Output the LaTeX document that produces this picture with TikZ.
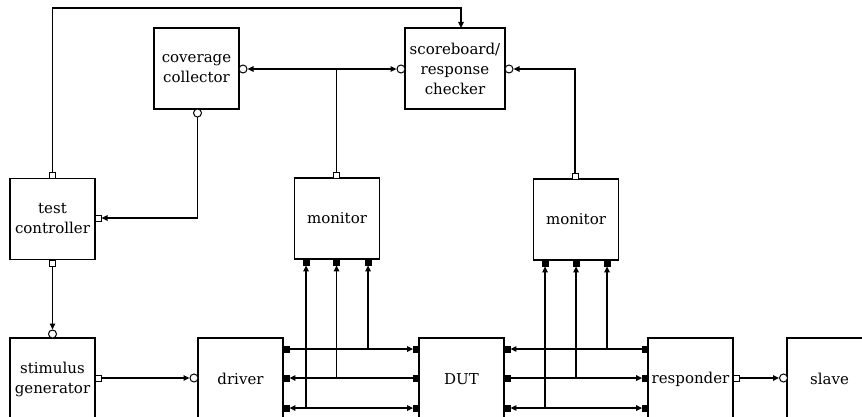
\documentclass[tikz,border=0pt]{standalone}
\usepackage{fontspec}
\setmainfont{DejaVu Serif}
\usetikzlibrary{arrows.meta,calc}
\begin{document}
\begin{tikzpicture}[x=1pt,y=-1pt,
  line width=1.3pt,
  block/.style={draw, minimum width=85pt, minimum height=81pt, align=center,
    inner sep=2pt, font=\fontsize{15}{20}\selectfont},
  oport/.style={draw, fill=white, rectangle, minimum size=6pt, inner sep=0pt, line width=1pt},
  cport/.style={draw, fill=white, circle, minimum size=8pt, inner sep=0pt, line width=1pt},
  fport/.style={draw, fill=black, rectangle, minimum size=6pt, inner sep=0pt, line width=0.8pt},
  tip/.tip={Triangle[length=6pt,width=5.5pt]},
  arr/.style={-tip},
  biarr/.style={tip-tip}
]
\useasboundingbox (0,0) rectangle (862,417);

% main blocks
\node[block] (cov) at (196.5,68.5) {coverage\\collector};
\node[block, minimum width=100pt] (sb) at (455,68.5) {scoreboard/\\response\\checker};
\node[block] (tc) at (52.5,219) {test\\controller};
\node[block] (mon1) at (337,218.5) {monitor};
\node[block] (mon2) at (576,219.5) {monitor};
\node[block, minimum height=82pt] (stim) at (52.5,379) {stimulus\\generator};
\node[block, minimum height=82pt] (drv) at (240.5,379) {driver};
\node[block, minimum height=82pt] (dut) at (461.5,379) {DUT};
\node[block, minimum height=82pt, inner sep=0pt] (resp) at (690.5,379) {responder};
\node[block, minimum height=82pt] (slave) at (829.5,379) {slave};

% ports
\node[oport] (tcT) at (52.5,175) {};
\node[oport] (tcR) at (98,218) {};
\node[oport] (tcB) at (52.5,263) {};
\node[cport] (covR) at (243,69) {};
\node[cport] (covB) at (197.5,113) {};
\node[cport] (sbL) at (401,69) {};
\node[cport] (sbR) at (509,69) {};
\coordinate (sbIn) at (461,28);
\node[oport] (m1T) at (336.5,175) {};
\node[fport] (m1a) at (306,262) {};
\node[fport] (m1b) at (336.5,262) {};
\node[fport] (m1c) at (368,262) {};
\node[oport] (m2T) at (575,176) {};
\node[fport] (m2a) at (545,263) {};
\node[fport] (m2b) at (576,263) {};
\node[fport] (m2c) at (607,263) {};
\node[cport] (stimT) at (52.5,334) {};
\node[oport] (stimR) at (98,378) {};
\node[cport] (drvL) at (194,378) {};
\node[fport] (d1) at (286,349) {};
\node[fport] (d2) at (286,378) {};
\node[fport] (d3) at (286,408) {};
\node[fport] (u1) at (416.5,349) {};
\node[fport] (u2) at (416.5,378) {};
\node[fport] (u3) at (416.5,408) {};
\node[fport] (v1) at (507,349) {};
\node[fport] (v2) at (507,378) {};
\node[fport] (v3) at (507,408) {};
\node[fport] (r1) at (645.5,349) {};
\node[fport] (r2) at (645.5,378) {};
\node[fport] (r3) at (645.5,408) {};
\node[oport] (respR) at (736,378) {};
\node[cport] (slaveL) at (783.5,378) {};

% control and analysis connections
\coordinate (topy) at (0,8);
\draw[arr] (tcT.north) |- (topy -| sbIn) -- (sbIn);
\coordinate (j1) at (m1T.north |- covR);
\draw (m1T.north) -- (j1);
\draw[arr] (j1) -- (covR);
\draw[arr] (j1) -- (sbL);
\draw[arr] (m2T.north) |- (sbR);
\draw[arr] (covB.south) |- (tcR);
\draw[arr] (tcB) -- (stimT);
\draw[arr] (stimR) -- (drvL);
\draw[arr] (respR) -- (slaveL);

% driver <-> DUT bus
\draw[arr] (d1) -- (u1);
\draw[arr] (u2) -- (d2);
\draw[biarr] (d3) -- (u3);
\draw[arr] (d1 -| m1c) -- (m1c);
\draw[arr] (d2 -| m1b) -- (m1b);
\draw[arr] (d3 -| m1a) -- (m1a);

% DUT <-> responder bus
\draw[arr] (r1) -- (v1);
\draw[arr] (v2) -- (r2);
\draw[biarr] (v3) -- (r3);
\draw[arr] (v1 -| m2c) -- (m2c);
\draw[arr] (v2 -| m2b) -- (m2b);
\draw[arr] (v3 -| m2a) -- (m2a);
\end{tikzpicture}
\end{document}
